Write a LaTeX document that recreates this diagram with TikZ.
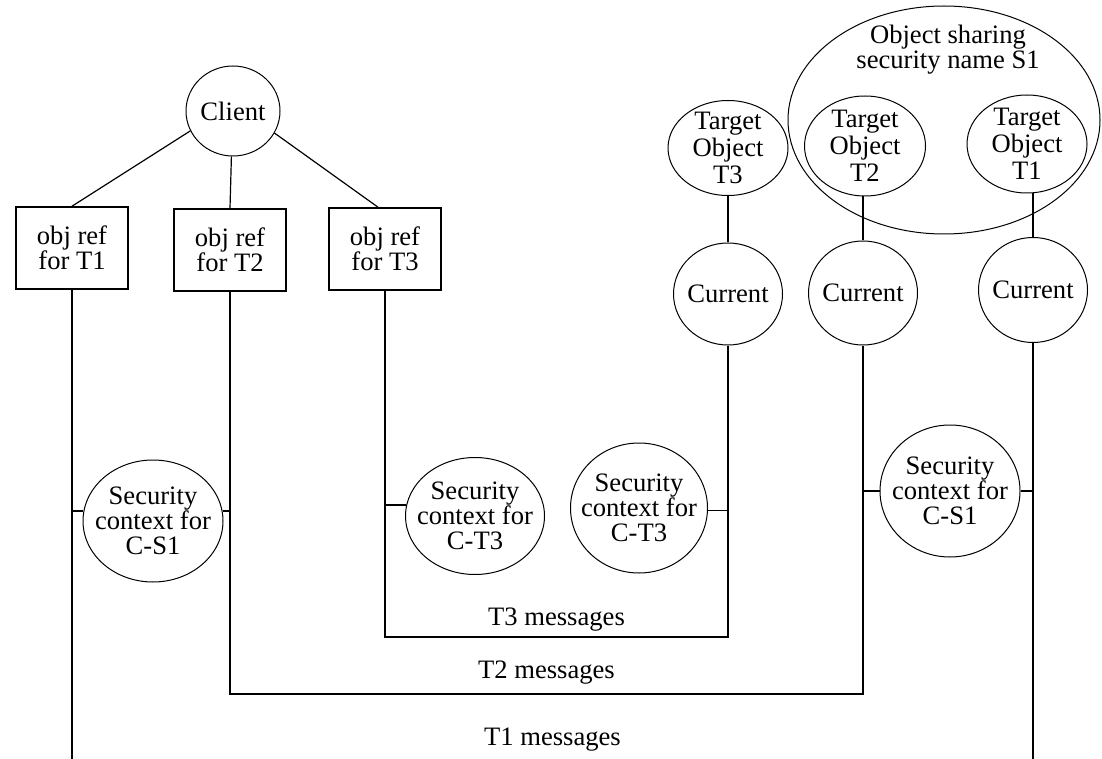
\documentclass[tikz,border=0pt]{standalone}
\usepackage{fontspec}
\setmainfont{Liberation Serif}
\usepackage{tikz}
\usetikzlibrary{positioning,calc,shapes.geometric}

\begin{document}
\begin{tikzpicture}[x=0.5pt, y=-0.5pt,
    every node/.style={font=\fontsize{13.3pt}{12.5pt}\selectfont, align=center, inner sep=0pt},
    refbox/.style={draw, line width=0.8pt, minimum width=56pt, minimum height=41pt},
    blob/.style 2 args={draw, ellipse, line width=0.5pt, inner sep=-6pt,
      minimum width=0.5pt*#1, minimum height=0.5pt*#2},
    tgttext/.style={font=\fontsize{13.3pt}{13.5pt}\selectfont},
    ctxtext/.style={font=\fontsize{13.3pt}{12.4pt}\selectfont},
    wire/.style={line width=0.9pt},
    thinwire/.style={line width=0.6pt}]
    \useasboundingbox (0,0) rectangle (1102,759);

    % Client and its object references
    \node[blob={94}{90}] (client) at (233,111) {Client};
    \node[refbox] (ref1) at (72,248) {obj ref\\for T1};
    \node[refbox] (ref2) at (230,250) {obj ref\\for T2};
    \node[refbox] (ref3) at (385,249) {obj ref\\for T3};

    % Target objects, T1 and T2 share security name S1
    \node[blob={312}{228}] (shared) at (944,120) {};
    \node (sharedtxt) at (948,50) {Object sharing\\security name S1};
    \node[blob={120}{95}, tgttext] (tgt3) at (728,148) {Target\\Object\\T3};
    \node[blob={121}{100}, tgttext] (tgt2) at (865,146) {Target\\Object\\T2};
    \node[blob={120}{98}, tgttext] (tgt1) at (1027,144) {Target\\Object\\T1};

    % Current objects
    \node[blob={109}{102}] (cur3) at (728,294) {Current};
    \node[blob={109}{104}] (cur2) at (863,293) {Current};
    \node[blob={109}{105}] (cur1) at (1033,290) {Current};

    % Security contexts
    \node[blob={140}{122}, ctxtext] (ctxA) at (153,521) {Security\\context for\\C-S1};
    \node[blob={139}{117}, ctxtext] (ctxB) at (475,516) {Security\\context for\\C-T3};
    \node[blob={137}{130}, ctxtext] (ctxC) at (639,508) {Security\\context for\\C-T3};
    \node[blob={140}{132}, ctxtext] (ctxD) at (950,491) {Security\\context for\\C-S1};

    % Message levels
    \coordinate (m3) at (0,637);
    \coordinate (m2) at (0,694);
    \coordinate (m1) at (0,759);

    % Client links
    \draw[thinwire] (client.205) -- (ref1.north);
    \draw[thinwire] (client.268) -- (ref2.north);
    \draw[thinwire] (client.332) -- ($(ref3.north)+(-7,0)$);

    % Target to current
    \draw[wire] (tgt3) -- (cur3);
    \draw[wire] (tgt2.south -| cur2.north) -- (cur2.north);
    \draw[wire] (cur1.north |- tgt1.south) -- (cur1.north);

    % Message paths
    \draw[wire] (ref3.south) |- node[pos=0.75, above=2.5pt] {T3 messages} (m3 -| cur3.south) -- (cur3.south);
    \draw[wire] (ref2.south) |- node[pos=0.75, above=4.5pt] {T2 messages} (m2 -| cur2.south) -- (cur2.south);
    \draw[wire] (ref1.south) -- (m1 -| ref1.south);
    \draw[wire] (cur1.south) -- (m1 -| cur1.south);
    \node[above=3.5pt] (t1msg) at ($(m1 -| ref1.south)!0.5!(m1 -| cur1.south)$) {T1 messages};

    % Contexts hooked on the paths
    \draw[wire] (ctxA.172) -- (ctxA.172 -| ref1.south);
    \draw[wire] (ctxA.8) -- (ctxA.8 -| ref2.south);
    \draw[wire] (ctxB.171) -- (ctxB.171 -| ref3.south);
    \draw[wire] (ctxC.358) -- (ctxC.358 -| cur3.south);
    \draw[wire] (ctxD.180) -- (ctxD.180 -| cur2.south);
    \draw[wire] (ctxD.0) -- (ctxD.0 -| cur1.south);
\end{tikzpicture}
\end{document}
